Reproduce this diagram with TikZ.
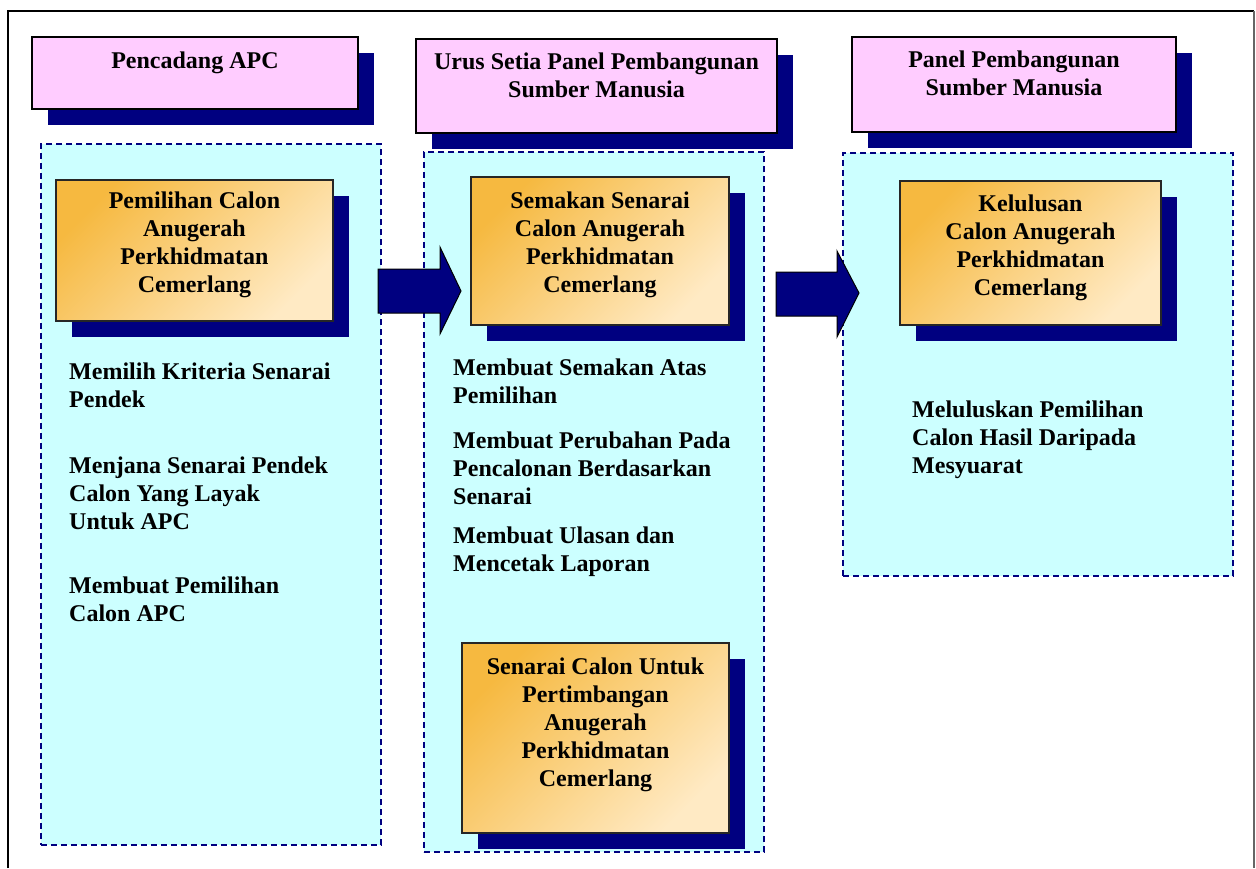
\documentclass[tikz,border=0pt]{standalone}
\usepackage{fontspec}
\setmainfont{Liberation Serif}
\usetikzlibrary{shadows}
\definecolor{navyblue}{HTML}{000080}
\definecolor{pinkfill}{HTML}{FFCCFF}
\definecolor{cyanfill}{HTML}{CCFFFF}
\definecolor{orangedark}{HTML}{F6B940}
\definecolor{orangelight}{HTML}{FFEAC4}
\newcommand{\ctab}[1]{\begin{tabular}[t]{@{}c@{}}#1\end{tabular}}
\newcommand{\ltab}[1]{\begin{tabular}[t]{@{}l@{}}#1\end{tabular}}
\begin{document}
\begin{tikzpicture}[x=1pt,y=-1pt,
  navyshadow/.style={general shadow={fill=navyblue, shadow xshift=16pt, shadow yshift=-16pt}},
  pinkbox/.style={draw=black, line width=2pt, fill=pinkfill, navyshadow, inner sep=0pt},
  panelbox/.style={draw=navyblue, line width=1.4pt, dash pattern=on 6pt off 4pt, fill=cyanfill, inner sep=0pt},
  taskbox/.style={draw=black!85, line width=1.6pt, top color=orangedark, bottom color=orangelight, shading angle=45, navyshadow, inner sep=0pt},
  label/.style={anchor=base, inner sep=0pt, font=\fontsize{24}{28}\selectfont\bfseries},
  itemtext/.style={anchor=base west, inner sep=0pt, font=\fontsize{24}{28}\selectfont\bfseries},
  blockarrow/.style={draw=black, line width=1pt, fill=navyblue, line join=miter}
]
\useasboundingbox (0,0) rectangle (1256,868);
\fill[white] (0,0) rectangle (1256,868);
% outer frame
\draw[line width=2.5pt] (8,868) -- (8,11) -- (1254,11);
\draw[line width=1.2pt, black!60] (1254,11) -- (1254,868);

% headers
\node[pinkbox, minimum width=326pt, minimum height=72pt] (h1) at (195,73) {};
\node[pinkbox, minimum width=361pt, minimum height=94pt] (h2) at (596.5,86) {};
\node[pinkbox, minimum width=324pt, minimum height=95pt] (h3) at (1014,84.5) {};
\node[label] (h1t) at (195,68) {\ctab{Pencadang APC}};
\node[label] (h2t) at (596.5,69) {\ctab{Urus Setia Panel Pembangunan\\Sumber Manusia}};
\node[label] (h3t) at (1014,67) {\ctab{Panel Pembangunan\\Sumber Manusia}};

% panels
\node[panelbox, minimum width=340pt, minimum height=701pt] (p1) at (211,494.5) {};
\node[panelbox, minimum width=340pt, minimum height=700pt] (p2) at (594,502) {};
\node[panelbox, minimum width=390pt, minimum height=423pt] (p3) at (1038,364.5) {};

% task boxes
\node[taskbox, minimum width=277pt, minimum height=141pt] (t1) at (194.5,250.5) {};
\node[taskbox, minimum width=258pt, minimum height=148pt] (t2) at (600,251) {};
\node[taskbox, minimum width=261pt, minimum height=144pt] (t3) at (1030.5,253) {};
\node[taskbox, minimum width=267pt, minimum height=190pt] (t4) at (595.5,738) {};
\node[label] (t1t) at (194.5,208) {\ctab{Pemilihan Calon\\Anugerah\\Perkhidmatan\\Cemerlang}};
\node[label] (t2t) at (600,208) {\ctab{Semakan Senarai\\Calon Anugerah\\Perkhidmatan\\Cemerlang}};
\node[label] (t3t) at (1030.5,211) {\ctab{Kelulusan\\Calon Anugerah\\Perkhidmatan\\Cemerlang}};
\node[label] (t4t) at (595.5,674) {\ctab{Senarai Calon Untuk\\Pertimbangan\\Anugerah\\Perkhidmatan\\Cemerlang}};

% item lists
\node[itemtext] (l1) at (69,379) {\ltab{Memilih Kriteria Senarai\\Pendek}};
\node[itemtext] (l2) at (69,473) {\ltab{Menjana Senarai Pendek\\Calon Yang Layak\\Untuk APC}};
\node[itemtext] (l3) at (69,593) {\ltab{Membuat Pemilihan\\Calon APC}};
\node[itemtext] (m1) at (453,375) {\ltab{Membuat Semakan Atas\\Pemilihan}};
\node[itemtext] (m2) at (453,448) {\ltab{Membuat Perubahan Pada\\Pencalonan Berdasarkan\\Senarai}};
\node[itemtext] (m3) at (453,543) {\ltab{Membuat Ulasan dan\\Mencetak Laporan}};
\node[itemtext] (r1) at (912,417) {\ltab{Meluluskan Pemilihan\\Calon Hasil Daripada\\Mesyuarat}};

% block arrows
\coordinate (a1) at (378,291);
\coordinate (a2) at (776,294);
\draw[blockarrow] (a1) ++(0,-22) -- ++(62,0) -- ++(0,-22) -- ++(21,44) -- ++(-21,43) -- ++(0,-21) -- ++(-62,0) -- cycle;
\draw[blockarrow] (a2) ++(0,-22) -- ++(61,0) -- ++(0,-21) -- ++(22,42) -- ++(-22,44) -- ++(0,-21) -- ++(-61,0) -- cycle;
\end{tikzpicture}
\end{document}
